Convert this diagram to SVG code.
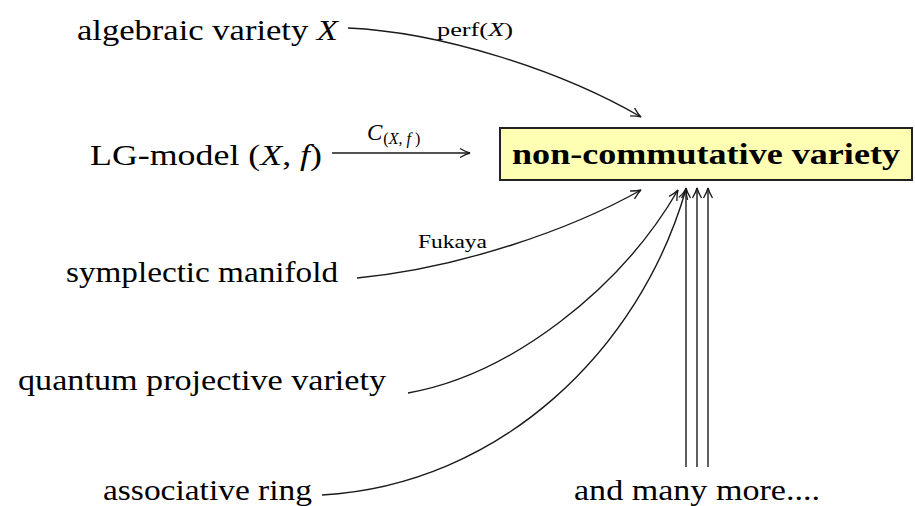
<svg xmlns="http://www.w3.org/2000/svg" width="915" height="506" viewBox="0 0 915 506">
<style>
.lbl{font-family:"Liberation Serif","DejaVu Serif",serif;font-size:30px;fill:#000}
.sm{font-family:"Liberation Serif","DejaVu Serif",serif;font-size:19px;fill:#000}
.it{font-style:italic}
.c{fill:none;stroke:#1a1a1a;stroke-width:1.4}
</style>
<defs>
<marker id="ar" markerWidth="14" markerHeight="12" viewBox="-12 -6 14 12" refX="0" refY="0" orient="auto" markerUnits="userSpaceOnUse">
<path d="M-10,-4.5 Q-4,-1 0,0 Q-4,1 -10,4.5" fill="none" stroke="#1a1a1a" stroke-width="1.3"/>
</marker>
</defs>
<rect width="915" height="506" fill="#fff"/>
<g id="connectors">
<path class="c" d="M348,28 C440,32 560,70 641,117" marker-end="url(#ar)"/>
<path class="c" d="M332,153 L470,153" marker-end="url(#ar)"/>
<path class="c" d="M357,278 C460,268 570,230 641,190" marker-end="url(#ar)"/>
<path class="c" d="M408,393 C510,375 620,290 678,190" marker-end="url(#ar)"/>
<path class="c" d="M322,495 C500,485 640,350 686,189" marker-end="url(#ar)"/>
<path class="c" d="M686,467 L686,188" marker-end="url(#ar)"/>
<path class="c" d="M697,467 L697,188" marker-end="url(#ar)"/>
<path class="c" d="M708,467 L708,188" marker-end="url(#ar)"/>
<text class="sm" x="437" y="36" textLength="76" lengthAdjust="spacingAndGlyphs">perf(<tspan class="it">X</tspan>)</text>
<text class="sm" x="367" y="140"><tspan class="it" font-size="23">C</tspan><tspan font-size="16" dy="4" dx="1">(<tspan class="it">X</tspan>, <tspan class="it">f</tspan> )</tspan></text>
<text class="sm" x="418" y="248" textLength="69" lengthAdjust="spacingAndGlyphs">Fukaya</text>
</g>
<g id="target">
<rect x="500" y="128" width="412" height="52" fill="#ffffb3" stroke="#222" stroke-width="2"/>
<text class="lbl" x="512" y="164" font-weight="bold" font-size="31" textLength="388" lengthAdjust="spacingAndGlyphs">non-commutative variety</text>
</g>
<g id="algebraic"><text class="lbl" x="77" y="40" textLength="261" lengthAdjust="spacingAndGlyphs">algebraic variety <tspan class="it">X</tspan></text></g>
<g id="lg"><text class="lbl" x="90" y="165" textLength="232" lengthAdjust="spacingAndGlyphs">LG-model (<tspan class="it">X</tspan>, <tspan class="it">f</tspan>)</text></g>
<g id="symplectic"><text class="lbl" x="66" y="282" textLength="272" lengthAdjust="spacingAndGlyphs">symplectic manifold</text></g>
<g id="quantum"><text class="lbl" x="18" y="390" textLength="368" lengthAdjust="spacingAndGlyphs">quantum projective variety</text></g>
<g id="ring"><text class="lbl" x="103" y="500" textLength="209" lengthAdjust="spacingAndGlyphs">associative ring</text></g>
<g id="more"><text class="lbl" x="574" y="500" textLength="246" lengthAdjust="spacingAndGlyphs">and many more....</text></g>
</svg>
